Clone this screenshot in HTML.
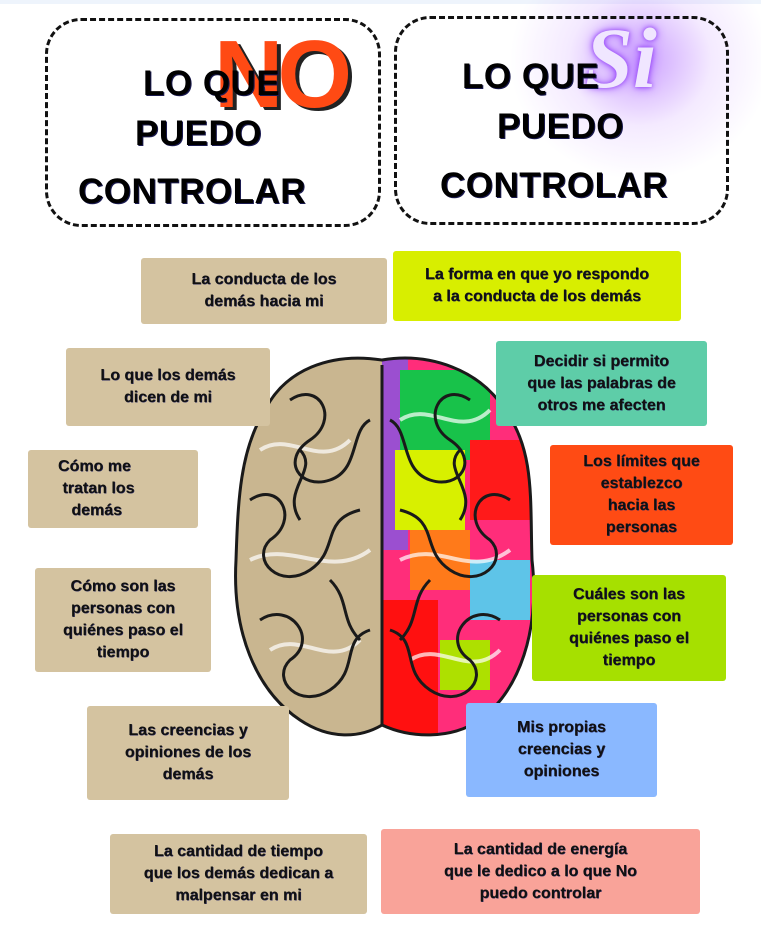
<!DOCTYPE html>
<html><head><meta charset="utf-8"><style>
body{margin:0;width:761px;height:942px;background:#fff;position:relative;overflow:hidden;font-family:"Liberation Sans","DejaVu Sans",sans-serif}
.b{position:absolute;display:flex;align-items:center;justify-content:center;text-align:center;font-weight:bold;font-size:16px;line-height:22px;color:#111;border-radius:3px;text-shadow:0.5px 0.5px 0 #2a2a60}
.be{background:#d4c3a0}
.hd{position:absolute;border:3px dashed #111;border-radius:36px;box-sizing:border-box}
.t{position:absolute;font-weight:bold;font-size:35px;color:#000;white-space:nowrap;letter-spacing:0.5px;text-shadow:1px 1px 0 #1a1a50}
</style></head><body>
<div style="position:absolute;left:0;top:0;width:761px;height:4px;background:#eef4fc"></div>
<div style="position:absolute;left:510px;top:-60px;width:260px;height:240px;background:radial-gradient(closest-side,rgba(160,80,255,0.55),rgba(200,150,255,0.2) 55%,rgba(255,255,255,0) 100%)"></div>
<div class="hd" style="left:45px;top:18px;width:336px;height:209px"></div>
<div class="hd" style="left:394px;top:16px;width:335px;height:209px"></div>
<div style="position:absolute;left:214px;top:20px;font-size:96px;font-weight:bold;color:#ff4a14;text-shadow:4px 3px 0 #222;letter-spacing:-6px;font-family:'Liberation Sans',sans-serif">NO</div>
<div class="t" style="left:143px;top:64px">LO QUE</div>
<div class="t" style="left:135px;top:114px">PUEDO</div>
<div class="t" style="left:78px;top:172px">CONTROLAR</div>
<div style="position:absolute;left:585px;top:8px;font-size:86px;font-style:italic;font-weight:bold;color:#f0e6ff;text-shadow:0 0 10px #a050ff,0 0 4px #8a3cf0;font-family:'Liberation Serif',serif">Si</div>
<div class="t" style="left:462px;top:57px">LO QUE</div>
<div class="t" style="left:497px;top:107px">PUEDO</div>
<div class="t" style="left:440px;top:166px">CONTROLAR</div>

<svg style="position:absolute;left:0;top:0" width="761" height="942">
<defs><clipPath id="r"><path d="M382 360 C430 352 480 370 505 410 C535 450 530 500 532 560 C540 630 520 690 480 720 C450 740 410 738 382 725 Z"/></clipPath></defs>
<path d="M382 360 C330 352 285 370 265 410 C240 450 238 500 236 560 C232 630 255 690 300 720 C330 740 360 738 382 725 Z" fill="#c9b690"/>
<g clip-path="url(#r)">
<rect x="378" y="350" width="160" height="400" fill="#ff2d7a"/>
<rect x="378" y="350" width="30" height="200" fill="#9b4fd0"/>
<rect x="400" y="370" width="90" height="90" fill="#18c24a"/>
<rect x="395" y="450" width="70" height="80" fill="#d8f000"/>
<rect x="470" y="440" width="70" height="80" fill="#ff1a1a"/>
<rect x="410" y="530" width="60" height="60" fill="#ff7a1a"/>
<rect x="470" y="560" width="60" height="60" fill="#5ec4e8"/>
<rect x="378" y="600" width="60" height="140" fill="#ff1010"/>
<rect x="440" y="640" width="50" height="50" fill="#aee000"/>
</g>
<g fill="none" stroke="#fff" stroke-width="4" opacity="0.7">
<path d="M260 450 C290 430 320 470 350 440 M250 560 C290 540 330 580 370 550 M270 650 C300 630 330 670 360 640 M400 420 C430 400 460 440 490 410 M400 560 C440 540 470 580 510 550 M410 660 C440 640 470 680 500 650"/>
</g>
<g fill="none" stroke="#1a1a1a" stroke-width="3">
<path d="M382 360 C330 352 285 370 265 410 C240 450 238 500 236 560 C232 630 255 690 300 720 C330 740 360 738 382 725 C410 738 450 740 480 720 C520 690 540 630 532 560 C530 500 535 450 505 410 C480 370 430 352 382 360 Z"/>
<path d="M382 365 L382 725"/>
<path d="M290 400 C320 380 340 420 310 440 C280 460 300 490 330 480 C360 470 350 430 370 420 M250 500 C280 480 300 520 270 540 C250 560 280 590 310 570 C340 550 320 520 360 510 M260 620 C290 600 320 640 290 660 C270 680 300 710 330 690 C360 670 340 640 370 630 M330 580 C350 600 340 620 360 640 M300 450 C320 470 280 490 300 520"/>
<path d="M470 400 C440 380 420 420 450 440 C480 460 460 490 430 480 C400 470 410 430 390 420 M510 500 C480 480 460 520 490 540 C510 560 480 590 450 570 C420 550 440 520 400 510 M500 620 C470 600 440 640 470 660 C490 680 460 710 430 690 C400 670 420 640 390 630 M430 580 C410 600 420 620 400 640 M460 450 C440 470 480 490 460 520"/>
</g>
</svg>

<div class="b be" style="left:141px;top:258px;width:246px;height:66px">La conducta de los<br>demás hacia mi</div>
<div class="b" style="left:393px;top:251px;width:288px;height:70px;background:#d8ee00">La forma en que yo respondo<br>a la conducta de los demás</div>
<div class="b be" style="left:66px;top:348px;width:204px;height:78px">Lo que los demás<br>dicen de mi</div>
<div class="b" style="left:496px;top:341px;width:211px;height:85px;background:#5ecda8">Decidir si permito<br>que las palabras de<br>otros me afecten</div>
<div class="b be" style="left:28px;top:450px;width:170px;height:78px;justify-content:flex-start;padding-left:30px;box-sizing:border-box;text-align:left">Cómo me<br>&nbsp;tratan los<br>&nbsp;&nbsp;&nbsp;demás</div>
<div class="b" style="left:550px;top:445px;width:183px;height:100px;background:#ff4b14">Los límites que<br>establezco<br>hacia las<br>personas</div>
<div class="b be" style="left:35px;top:568px;width:176px;height:104px">Cómo son las<br>personas con<br>quiénes paso el<br>tiempo</div>
<div class="b" style="left:532px;top:575px;width:194px;height:106px;background:#a6e000">Cuáles son las<br>personas con<br>quiénes paso el<br>tiempo</div>
<div class="b be" style="left:87px;top:706px;width:202px;height:94px">Las creencias y<br>opiniones de los<br>demás</div>
<div class="b" style="left:466px;top:703px;width:191px;height:94px;background:#8ab8ff">Mis propias<br>creencias y<br>opiniones</div>
<div class="b be" style="left:110px;top:834px;width:257px;height:80px">La cantidad de tiempo<br>que los demás dedican a<br>malpensar en mi</div>
<div class="b" style="left:381px;top:829px;width:319px;height:85px;background:#f9a399">La cantidad de energía<br>que le dedico a lo que No<br>puedo controlar</div>
</body></html>
